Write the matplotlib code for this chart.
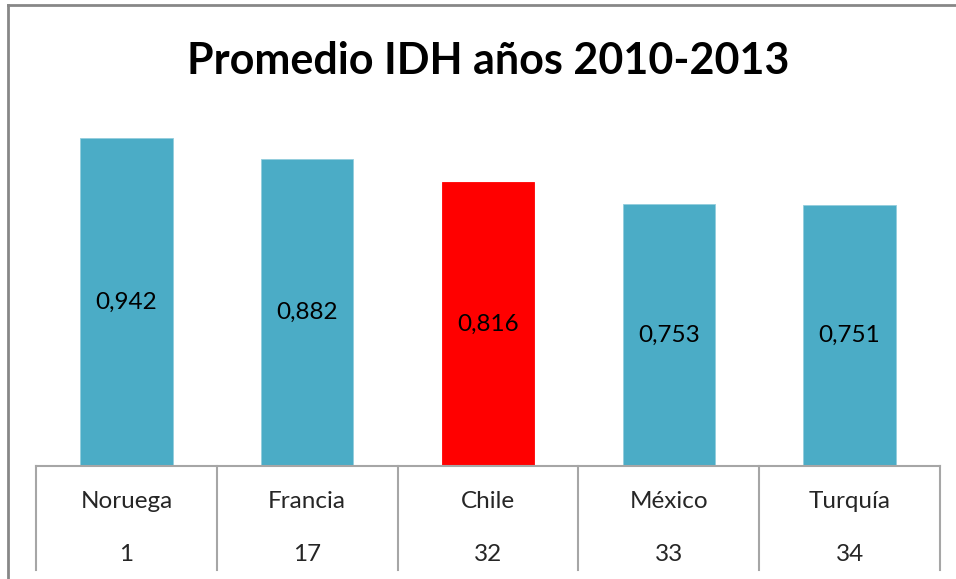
import matplotlib
matplotlib.use("Agg")
import matplotlib.pyplot as plt
from matplotlib.lines import Line2D

# data
paises = ["Noruega", "Francia", "Chile", "México", "Turquía"]
ranking = [1, 17, 32, 33, 34]
idh = [0.942, 0.882, 0.816, 0.753, 0.751]
colores = ["#4BACC6", "#4BACC6", "#FF0000", "#4BACC6", "#4BACC6"]

W, H = 956, 579
plt.rcParams['font.family'] = ['Lato', 'DejaVu Sans']
texto = "#262626"
gris = "#A6A6A6"

fig = plt.figure(figsize=(W / 100, H / 100), dpi=100)

# bar area: baseline at y=466 px, 1.0 at y=118 px, x from 36 to 940 px
ax = fig.add_axes([36 / W, (H - 466) / H, 904 / W, 348 / H])
x = list(range(len(paises)))
bars = ax.bar(x, idh, width=0.51, color=colores, edgecolor="#93CDDD",
              linewidth=0.6)
bars[2].set_edgecolor("#FF0000")
for xi, v in zip(x, idh):
    ax.text(xi, v / 2, "{:.3f}".format(v).replace(".", ","), ha="center",
            va="center", fontsize=17.5, color="black")
ax.set_xlim(-0.5, len(paises) - 0.5)
ax.set_ylim(0, 1.0)
ax.axis("off")

# table under the bars
axt = fig.add_axes([36 / W, (H - 570) / H, 904 / W, 104 / H])
axt.set_xlim(-0.5, len(paises) - 0.5)
axt.set_ylim(0, 1)
axt.axis("off")
axt.axhline(1, color=gris, lw=1.5, clip_on=False)
for b in range(len(paises) + 1):
    axt.axvline(b - 0.5, color=gris, lw=1.5, clip_on=False)
for xi, p, r in zip(x, paises, ranking):
    axt.text(xi, 0.66, p, ha="center", va="center", fontsize=17.5, color=texto)
    axt.text(xi, 0.15, str(r), ha="center", va="center", fontsize=17.5,
             color=texto)

fig.text(488 / W, 1 - 61 / H, "Promedio IDH años 2010-2013", ha="center",
         va="center", fontsize=31, fontweight="bold", color="black")

# outer chart border (top and left visible)
fig.add_artist(Line2D([8 / W, 1], [1 - 5 / H, 1 - 5 / H], color="#878787",
                      lw=2, transform=fig.transFigure))
fig.add_artist(Line2D([8 / W, 8 / W], [0, 1 - 5 / H], color="#878787",
                      lw=2, transform=fig.transFigure))

fig.savefig("out.png", dpi=100)
